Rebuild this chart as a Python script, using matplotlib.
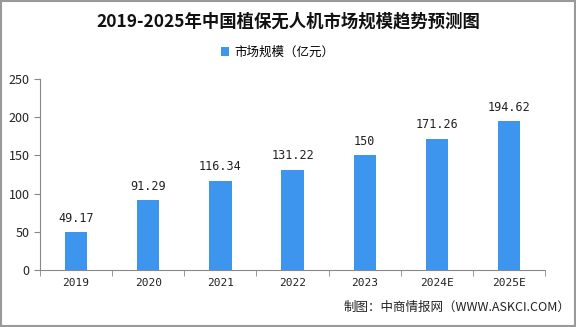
import matplotlib
matplotlib.use("Agg")
import matplotlib.pyplot as plt
from matplotlib.patches import Rectangle

plt.rcParams['font.family'] = ['Noto Sans CJK SC', 'DejaVu Sans']

years = ["2019", "2020", "2021", "2022", "2023", "2024E", "2025E"]
market_size = [49.17, 91.29, 116.34, 131.22, 150, 171.26, 194.62]
value_labels = ["49.17", "91.29", "116.34", "131.22", "150", "171.26", "194.62"]

bar_color = "#3d95ee"

fig = plt.figure(figsize=(5.76, 3.27), dpi=100)
ax = fig.add_axes([0.0694, 0.1743, 0.877, 0.5842])

x = list(range(len(years)))
ax.bar(x, market_size, width=0.31, color=bar_color, label="市场规模（亿元）", zorder=2)
for xi, v, lab in zip(x, market_size, value_labels):
    ax.text(xi, v + 10, lab, ha="center", va="bottom", fontsize=8.5, color="#222222",
            family="DejaVu Sans Mono")

ax.set_xlim(-0.5, len(years) - 0.5)
ax.set_ylim(0, 250)
ax.set_yticks([0, 50, 100, 150, 200, 250])
ax.set_xticks(x)
ax.set_xticklabels(years, family="DejaVu Sans Mono")
ax.tick_params(axis="x", length=0, labelsize=8, pad=6, colors="#222222")
ax.tick_params(axis="y", length=4, labelsize=9, colors="#222222", direction="out", color="#888888")
# category boundary ticks on x axis
ax.set_xticks([i - 0.5 for i in range(len(years) + 1)], minor=True)
ax.tick_params(axis="x", which="minor", length=4, color="#888888")

for s in ["top", "right"]:
    ax.spines[s].set_visible(False)
ax.spines["left"].set_color("#888888")
ax.spines["bottom"].set_color("#888888")

fig.text(0.5, 0.935, "2019-2025年中国植保无人机市场规模趋势预测图", ha="center", va="center",
         fontsize=12.5, fontweight="bold", color="#111111")
ax.legend(loc="center", bbox_to_anchor=(0.47, 1.14), frameon=False, fontsize=9,
          handlelength=0.7, handleheight=0.7, handletextpad=0.4)
fig.text(0.99, 0.06, "制图：中商情报网（WWW.ASKCI.COM）", ha="right", va="center",
         fontsize=9, color="#222222")

fig.patches.append(Rectangle((0.001, 0.002), 0.997, 0.995, transform=fig.transFigure,
                             fill=False, edgecolor="#999999", linewidth=1.5))

fig.savefig("out.png", dpi=100)
